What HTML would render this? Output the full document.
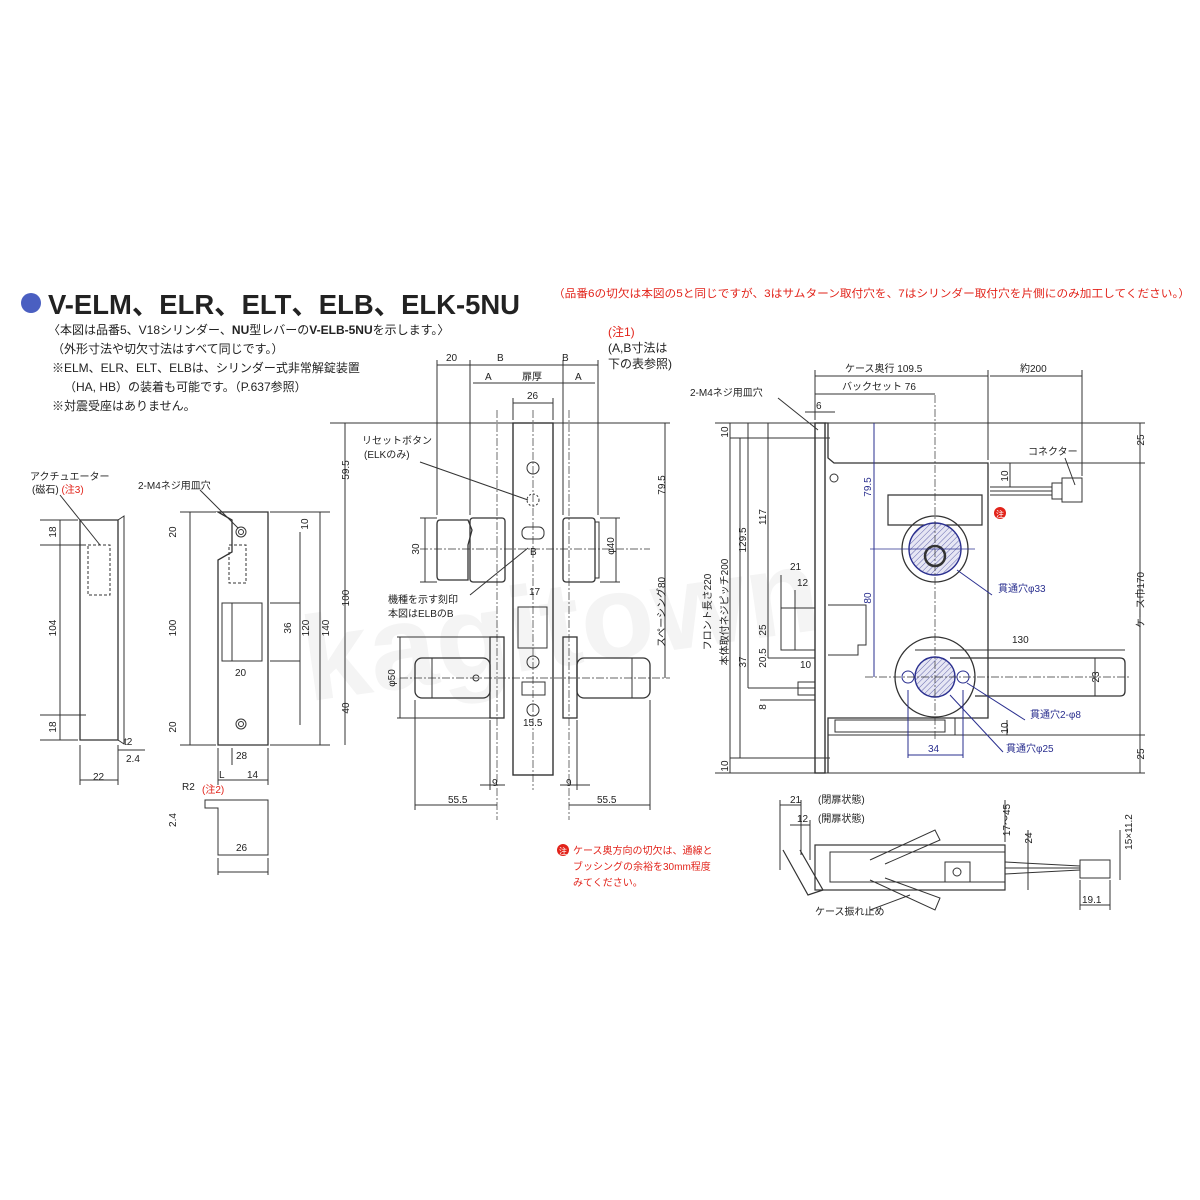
<!DOCTYPE html>
<html><head><meta charset="utf-8"><style>
html,body{margin:0;padding:0;background:#fff;}
svg{display:block;}
text{font-family:"Liberation Sans","Noto Sans CJK JP",sans-serif;fill:#222;}
.t{font-size:10px;}
.b{fill:#2a2f8f;}
.r{fill:#e2231a;}
.v{text-anchor:middle;}
</style></head><body>
<svg width="1200" height="1200" viewBox="0 0 1200 1200" xmlns="http://www.w3.org/2000/svg">
<defs>
<pattern id="h" width="4" height="4" patternUnits="userSpaceOnUse" patternTransform="rotate(45)">
<rect width="4" height="4" fill="#e6e6f4"/><line x1="0" y1="0" x2="0" y2="4" stroke="#2a2f8f" stroke-width="0.7"/></pattern>
</defs>
<rect width="1200" height="1200" fill="#fff"/>
<text x="300" y="660" font-size="120" font-weight="bold" style="fill:#f4f4f4" transform="rotate(-8 600 620)">kagitown</text>

<circle cx="31" cy="303" r="10" fill="#4a5fc1"/>
<text x="48" y="314" font-size="28" font-weight="bold" textLength="472" lengthAdjust="spacingAndGlyphs" style="fill:#222">V-ELM、ELR、ELT、ELB、ELK-5NU</text>
<text x="553" y="297" font-size="11" class="r" textLength="637" lengthAdjust="spacingAndGlyphs">（品番6の切欠は本図の5と同じですが、3はサムターン取付穴を、7はシリンダー取付穴を片側にのみ加工してください。）</text>
<text x="48" y="334" font-size="12">〈本図は品番5、V18シリンダー、<tspan font-weight="bold">NU</tspan>型レバーの<tspan font-weight="bold">V-ELB-5NU</tspan>を示します。〉</text>
<text x="52" y="353" font-size="12">（外形寸法や切欠寸法はすべて同じです。）</text>
<text x="52" y="372" font-size="12">※ELM、ELR、ELT、ELBは、シリンダー式非常解錠装置</text>
<text x="64" y="391" font-size="12">（HA, HB）の装着も可能です。（P.637参照）</text>
<text x="52" y="410" font-size="12">※対震受座はありません。</text>
<text x="608" y="336" font-size="12" class="r">(注1)</text>
<text x="608" y="352" font-size="12">(A,B寸法は</text>
<text x="608" y="368" font-size="12">下の表参照)</text>

<g fill="none" stroke="#333" stroke-width="1">
<path d="M80 520 H118 V740 H80 Z" stroke-width="1.3"/>
<path d="M118 520 L124 516 V744 L118 740"/>
<rect x="88" y="545" width="22" height="50" stroke-dasharray="3,2"/>
<line x1="40" y1="520" x2="78" y2="520"/><line x1="40" y1="740" x2="78" y2="740"/>
<line x1="60" y1="520" x2="60" y2="740"/>
<line x1="40" y1="545" x2="86" y2="545"/><line x1="40" y1="715" x2="86" y2="715"/>
<line x1="80" y1="745" x2="80" y2="785"/><line x1="118" y1="745" x2="118" y2="785"/>
<line x1="80" y1="780" x2="118" y2="780"/>
<line x1="118" y1="750" x2="145" y2="750"/>
<line x1="60" y1="495" x2="100" y2="545"/>
<path d="M218 512 H268 V745 H218 V560 L232 552 V520 L218 512 Z" stroke-width="1.3"/>
<circle cx="241" cy="532" r="5"/><circle cx="241" cy="532" r="2.5"/>
<circle cx="241" cy="724" r="5"/><circle cx="241" cy="724" r="2.5"/>
<rect x="222" y="603" width="40" height="58"/>
<rect x="232" y="603" width="30" height="58"/>
<rect x="229" y="545" width="17" height="38" stroke-dasharray="3,2"/>
<line x1="180" y1="512" x2="216" y2="512"/><line x1="180" y1="745" x2="216" y2="745"/>
<line x1="190" y1="512" x2="190" y2="745"/>
<line x1="270" y1="512" x2="330" y2="512"/><line x1="270" y1="745" x2="330" y2="745"/>
<line x1="300" y1="532" x2="300" y2="725"/><line x1="320" y1="512" x2="320" y2="745"/>
<line x1="270" y1="603" x2="300" y2="603"/><line x1="270" y1="661" x2="300" y2="661"/>
<line x1="218" y1="748" x2="218" y2="785"/><line x1="268" y1="748" x2="268" y2="785"/>
<line x1="218" y1="780" x2="268" y2="780"/>
<line x1="232" y1="748" x2="232" y2="765"/>
<line x1="200" y1="490" x2="238" y2="528"/>
<path d="M205 800 H268 V855 H218 V808 H205 Z"/>
<line x1="218" y1="858" x2="218" y2="875"/><line x1="268" y1="858" x2="268" y2="875"/>
<line x1="218" y1="872" x2="268" y2="872"/>

<rect x="513" y="423" width="40" height="352" stroke-width="1.4"/>
<line x1="533" y1="410" x2="533" y2="790" stroke-dasharray="8,2,2,2" stroke-width="0.7"/>
<line x1="497" y1="410" x2="497" y2="820" stroke-dasharray="8,2,2,2" stroke-width="0.7"/>
<line x1="569" y1="410" x2="569" y2="820" stroke-dasharray="8,2,2,2" stroke-width="0.7"/>
<circle cx="533" cy="468" r="6"/><circle cx="533" cy="662" r="6"/><circle cx="533" cy="710" r="6"/>
<circle cx="533" cy="500" r="6" stroke-dasharray="2,2"/>
<rect x="518" y="607" width="29" height="41"/>
<rect x="522" y="682" width="23" height="13"/>
<rect x="522" y="527" width="22" height="12" rx="5"/>
<path d="M440 520 H468 L472 530 L468 545 V580 H440 Q437 580 437 576 V524 Q437 520 440 520Z" stroke-width="1.3"/>
<rect x="470" y="518" width="35" height="64" rx="3" stroke-width="1.3"/>
<rect x="563" y="518" width="32" height="64" rx="3" stroke-width="1.3"/>
<rect x="595" y="522" width="4" height="56"/>
<line x1="420" y1="549" x2="650" y2="549" stroke-dasharray="8,2,2,2" stroke-width="0.7"/>
<rect x="490" y="637" width="14" height="81" stroke-width="1.3"/>
<rect x="563" y="637" width="14" height="81" stroke-width="1.3"/>
<rect x="415" y="658" width="75" height="40" rx="7" stroke-width="1.3"/>
<rect x="577" y="658" width="73" height="40" rx="7" stroke-width="1.3"/>
<line x1="432" y1="658" x2="432" y2="698"/><line x1="632" y1="658" x2="632" y2="698"/>
<circle cx="476" cy="678" r="3"/>
<line x1="400" y1="678" x2="670" y2="678" stroke-dasharray="8,2,2,2" stroke-width="0.7"/>
<line x1="437" y1="360" x2="437" y2="515"/><line x1="470" y1="360" x2="470" y2="515"/>
<line x1="563" y1="360" x2="563" y2="515"/><line x1="598" y1="360" x2="598" y2="515"/>
<line x1="437" y1="365" x2="598" y2="365"/>
<line x1="473" y1="383" x2="595" y2="383"/>
<line x1="513" y1="403" x2="553" y2="403"/><line x1="513" y1="398" x2="513" y2="420"/><line x1="553" y1="398" x2="553" y2="420"/>
<line x1="330" y1="423" x2="670" y2="423"/>
<line x1="345" y1="423" x2="345" y2="745"/>
<line x1="665" y1="423" x2="665" y2="678"/>
<line x1="415" y1="700" x2="415" y2="810"/><line x1="650" y1="700" x2="650" y2="810"/>
<line x1="415" y1="805" x2="497" y2="805"/><line x1="569" y1="805" x2="650" y2="805"/>
<line x1="490" y1="720" x2="490" y2="790"/><line x1="577" y1="720" x2="577" y2="790"/>
<line x1="480" y1="785" x2="505" y2="785"/><line x1="560" y1="785" x2="590" y2="785"/>
<line x1="397" y1="637" x2="490" y2="637"/><line x1="397" y1="718" x2="490" y2="718"/><line x1="400" y1="637" x2="400" y2="718"/>
<line x1="420" y1="518" x2="437" y2="518"/><line x1="420" y1="582" x2="437" y2="582"/><line x1="425" y1="518" x2="425" y2="582"/>
<line x1="600" y1="518" x2="620" y2="518"/><line x1="600" y1="582" x2="620" y2="582"/><line x1="616" y1="518" x2="616" y2="582"/>
<line x1="420" y1="462" x2="528" y2="500"/>
<line x1="470" y1="595" x2="528" y2="548"/>

<rect x="815" y="423" width="10" height="350" stroke-width="1.4"/>
<path d="M825 423 H828 V458 L834 463 H988 V718 H828 V773" stroke-width="1.3"/>
<path d="M828 718 V735 H955 V718"/>
<rect x="835" y="720" width="110" height="12"/>
<circle cx="834" cy="478" r="4"/>
<path d="M888 495 H982 V525 H888 Z" stroke-width="1.2"/>
<circle cx="935" cy="549" r="33" stroke-width="1.3"/>
<circle cx="935" cy="549" r="26" stroke="#2a2f8f" stroke-width="1.4" fill="url(#h)"/>
<circle cx="935" cy="556" r="10" stroke-width="2.5"/>
<circle cx="935" cy="677" r="40" stroke-width="1.3"/>
<circle cx="935" cy="677" r="20" stroke="#2a2f8f" stroke-width="1.4" fill="url(#h)"/>
<circle cx="908" cy="677" r="6" stroke="#2a2f8f"/><circle cx="963" cy="677" r="6" stroke="#2a2f8f"/>
<path d="M950 658 H1120 Q1125 658 1125 663 V691 Q1125 696 1120 696 H975" stroke-width="1.3"/>
<rect x="781" y="608" width="34" height="42"/>
<path d="M828 605 H866 V645 H858 V655 H828"/>
<rect x="798" y="682" width="17" height="13"/>
<line x1="990" y1="487" x2="1052" y2="487"/><line x1="990" y1="491" x2="1052" y2="491"/><line x1="990" y1="495" x2="1052" y2="495"/>
<rect x="1052" y="483" width="10" height="16"/><rect x="1062" y="478" width="20" height="24"/>
<line x1="935" y1="395" x2="935" y2="740" stroke-dasharray="8,2,2,2" stroke-width="0.7"/>
<line x1="870" y1="549" x2="975" y2="549" stroke="#2a2f8f" stroke-width="0.8"/>
<line x1="865" y1="677" x2="1130" y2="677" stroke-dasharray="8,2,2,2" stroke-width="0.7"/>
<line x1="815" y1="370" x2="815" y2="420"/><line x1="988" y1="370" x2="988" y2="460"/><line x1="1082" y1="370" x2="1082" y2="476"/>
<line x1="815" y1="376" x2="988" y2="376"/><line x1="990" y1="376" x2="1082" y2="376"/>
<line x1="815" y1="394" x2="935" y2="394"/>
<line x1="805" y1="412" x2="835" y2="412"/>
<line x1="715" y1="423" x2="1145" y2="423"/><line x1="715" y1="773" x2="1145" y2="773"/>
<line x1="990" y1="463" x2="1145" y2="463"/><line x1="955" y1="735" x2="1145" y2="735"/>
<line x1="1140" y1="423" x2="1140" y2="773"/>
<line x1="730" y1="423" x2="730" y2="773"/><line x1="740" y1="438" x2="740" y2="758"/>
<line x1="730" y1="438" x2="830" y2="438"/><line x1="730" y1="758" x2="830" y2="758"/>
<line x1="748" y1="423" x2="748" y2="688"/><line x1="768" y1="423" x2="768" y2="658"/>
<line x1="748" y1="688" x2="815" y2="688"/><line x1="768" y1="658" x2="815" y2="658"/>
<line x1="760" y1="700" x2="815" y2="700"/>
<line x1="781" y1="575" x2="781" y2="608"/><line x1="795" y1="590" x2="795" y2="650"/>
<line x1="874" y1="423" x2="874" y2="677" stroke="#2a2f8f"/>
<line x1="908" y1="690" x2="908" y2="758" stroke="#2a2f8f"/><line x1="963" y1="690" x2="963" y2="758" stroke="#2a2f8f"/>
<line x1="908" y1="755" x2="963" y2="755" stroke="#2a2f8f"/>
<line x1="915" y1="650" x2="1125" y2="650"/>
<line x1="1095" y1="658" x2="1095" y2="696"/>
<line x1="1010" y1="463" x2="1010" y2="487"/><line x1="1007" y1="720" x2="1007" y2="735"/>
<line x1="957" y1="570" x2="992" y2="595" stroke="#2a2f8f"/>
<line x1="967" y1="683" x2="1025" y2="720" stroke="#2a2f8f"/>
<line x1="950" y1="695" x2="1003" y2="752" stroke="#2a2f8f"/>
<line x1="1065" y1="458" x2="1075" y2="485"/>
<line x1="778" y1="398" x2="818" y2="430"/>

<line x1="780" y1="800" x2="780" y2="870"/><line x1="801" y1="800" x2="801" y2="855"/><line x1="810" y1="820" x2="810" y2="860"/>
<line x1="780" y1="805" x2="801" y2="805"/><line x1="790" y1="825" x2="810" y2="825"/>
<path d="M783 850 L808 895 L823 890 L800 850" stroke-width="1.2"/>
<rect x="815" y="845" width="190" height="45" stroke-width="1.2"/>
<rect x="830" y="852" width="175" height="30"/>
<path d="M870 860 L935 830 L940 840 L885 864"/>
<path d="M870 880 L935 910 L940 898 L885 878"/>
<rect x="945" y="862" width="25" height="20"/><circle cx="957" cy="872" r="4"/>
<line x1="1005" y1="862" x2="1080" y2="866"/><line x1="1005" y1="868" x2="1080" y2="868"/><line x1="1005" y1="874" x2="1080" y2="870"/>
<rect x="1080" y="860" width="30" height="18"/>
<line x1="1080" y1="880" x2="1080" y2="910"/><line x1="1110" y1="880" x2="1110" y2="910"/><line x1="1080" y1="905" x2="1110" y2="905"/>
<line x1="1005" y1="800" x2="1005" y2="842"/><line x1="1028" y1="830" x2="1028" y2="890"/>
<line x1="1120" y1="830" x2="1120" y2="880"/>
<line x1="870" y1="910" x2="910" y2="895"/>
</g>

<g class="t">
<text x="30" y="480">アクチュエーター</text>
<text x="32" y="493">(磁石) <tspan class="r">(注3)</tspan></text>
<text x="138" y="489">2-M4ネジ用皿穴</text>
<text x="124" y="745">t2</text><text x="126" y="762">2.4</text>
<text x="93" y="780">22</text>
<text x="235" y="676">20</text><text x="236" y="759">28</text>
<text x="219" y="778">L</text><text x="247" y="778">14</text>
<text x="182" y="790">R2</text><text x="202" y="793" class="r">(注2)</text>
<text x="236" y="851">26</text>
<text x="446" y="361">20</text><text x="497" y="361">B</text><text x="562" y="361">B</text>
<text x="485" y="380">A</text><text x="522" y="380">扉厚</text><text x="575" y="380">A</text>
<text x="527" y="399">26</text>
<text x="362" y="444">リセットボタン</text><text x="364" y="458">(ELKのみ)</text>
<text x="530" y="555">B</text>
<text x="529" y="595">17</text>
<text x="523" y="726">15.5</text>
<text x="388" y="603">機種を示す刻印</text><text x="388" y="617">本図はELBのB</text>
<text x="492" y="786">9</text><text x="566" y="786">9</text>
<text x="448" y="803">55.5</text><text x="597" y="803">55.5</text>
<text x="845" y="372">ケース奥行 109.5</text><text x="1020" y="372">約200</text>
<text x="842" y="390">バックセット 76</text>
<text x="816" y="409">6</text>
<text x="690" y="396">2-M4ネジ用皿穴</text>
<text x="1028" y="455">コネクター</text>
<text x="790" y="570">21</text><text x="797" y="586">12</text>
<text x="800" y="668">10</text>
<text x="1012" y="643">130</text>
<text x="998" y="592" class="b">貫通穴φ33</text>
<text x="1030" y="718" class="b">貫通穴2-φ8</text>
<text x="1006" y="752" class="b">貫通穴φ25</text>
<text x="928" y="752" class="b">34</text>
<circle cx="1000" cy="513" r="6" fill="#e2231a"/><text x="996" y="517" font-size="8" style="fill:#fff">注</text>
<text x="790" y="803">21</text><text x="818" y="803">(閉扉状態)</text>
<text x="797" y="822">12</text><text x="818" y="822">(開扉状態)</text>
<text x="1082" y="903">19.1</text>
<text x="815" y="915">ケース振れ止め</text>
<circle cx="563" cy="850" r="6" fill="#e2231a"/><text x="559" y="854" font-size="8" style="fill:#fff">注</text>
<text x="573" y="854" class="r">ケース奥方向の切欠は、通線と</text>
<text x="573" y="870" class="r">ブッシングの余裕を30mm程度</text>
<text x="573" y="886" class="r">みてください。</text>

<!-- rotated labels: translate(baselineX, centerY) -->
<text class="v" transform="translate(56,532) rotate(-90)">18</text>
<text class="v" transform="translate(56,628) rotate(-90)">104</text>
<text class="v" transform="translate(56,727) rotate(-90)">18</text>
<text class="v" transform="translate(176,532) rotate(-90)">20</text>
<text class="v" transform="translate(176,628) rotate(-90)">100</text>
<text class="v" transform="translate(176,727) rotate(-90)">20</text>
<text class="v" transform="translate(176,820) rotate(-90)">2.4</text>
<text class="v" transform="translate(308,524) rotate(-90)">10</text>
<text class="v" transform="translate(291,628) rotate(-90)">36</text>
<text class="v" transform="translate(309,628) rotate(-90)">120</text>
<text class="v" transform="translate(329,628) rotate(-90)">140</text>
<text class="v" transform="translate(349,598) rotate(-90)">100</text>
<text class="v" transform="translate(349,708) rotate(-90)">40</text>
<text class="v" transform="translate(349,470) rotate(-90)">59.5</text>
<text class="v" transform="translate(419,549) rotate(-90)">30</text>
<text class="v" transform="translate(614,546) rotate(-90)">φ40</text>
<text class="v" transform="translate(395,678) rotate(-90)">φ50</text>
<text class="v" transform="translate(665,485) rotate(-90)">79.5</text>
<text class="v" transform="translate(665,612) rotate(-90)">スペーシング80</text>
<text class="v" transform="translate(728,432) rotate(-90)">10</text>
<text class="v" transform="translate(728,766) rotate(-90)">10</text>
<text class="v" transform="translate(746,540) rotate(-90)">129.5</text>
<text class="v" transform="translate(766,517) rotate(-90)">117</text>
<text class="v" transform="translate(711,612) rotate(-90)">フロント長さ220</text>
<text class="v" transform="translate(728,612) rotate(-90)">本体取付ネジピッチ200</text>
<text class="v" transform="translate(766,630) rotate(-90)">25</text>
<text class="v" transform="translate(746,662) rotate(-90)">37</text>
<text class="v" transform="translate(766,658) rotate(-90)">20.5</text>
<text class="v" transform="translate(766,707) rotate(-90)">8</text>
<text class="v" transform="translate(1144,440) rotate(-90)">25</text>
<text class="v" transform="translate(1144,754) rotate(-90)">25</text>
<text class="v" transform="translate(1144,600) rotate(-90)">ケース巾170</text>
<text class="v" transform="translate(1008,476) rotate(-90)">10</text>
<text class="v" transform="translate(1008,728) rotate(-90)">10</text>
<text class="v" transform="translate(1099,677) rotate(-90)">23</text>
<text class="v b" transform="translate(871,487) rotate(-90)">79.5</text>
<text class="v b" transform="translate(871,598) rotate(-90)">80</text>
<text class="v" transform="translate(1010,820) rotate(-90)">17〜45</text>
<text class="v" transform="translate(1032,838) rotate(-90)">24</text>
<text class="v" transform="translate(1132,832) rotate(-90)">15×11.2</text>
</g>
</svg>
</body></html>
